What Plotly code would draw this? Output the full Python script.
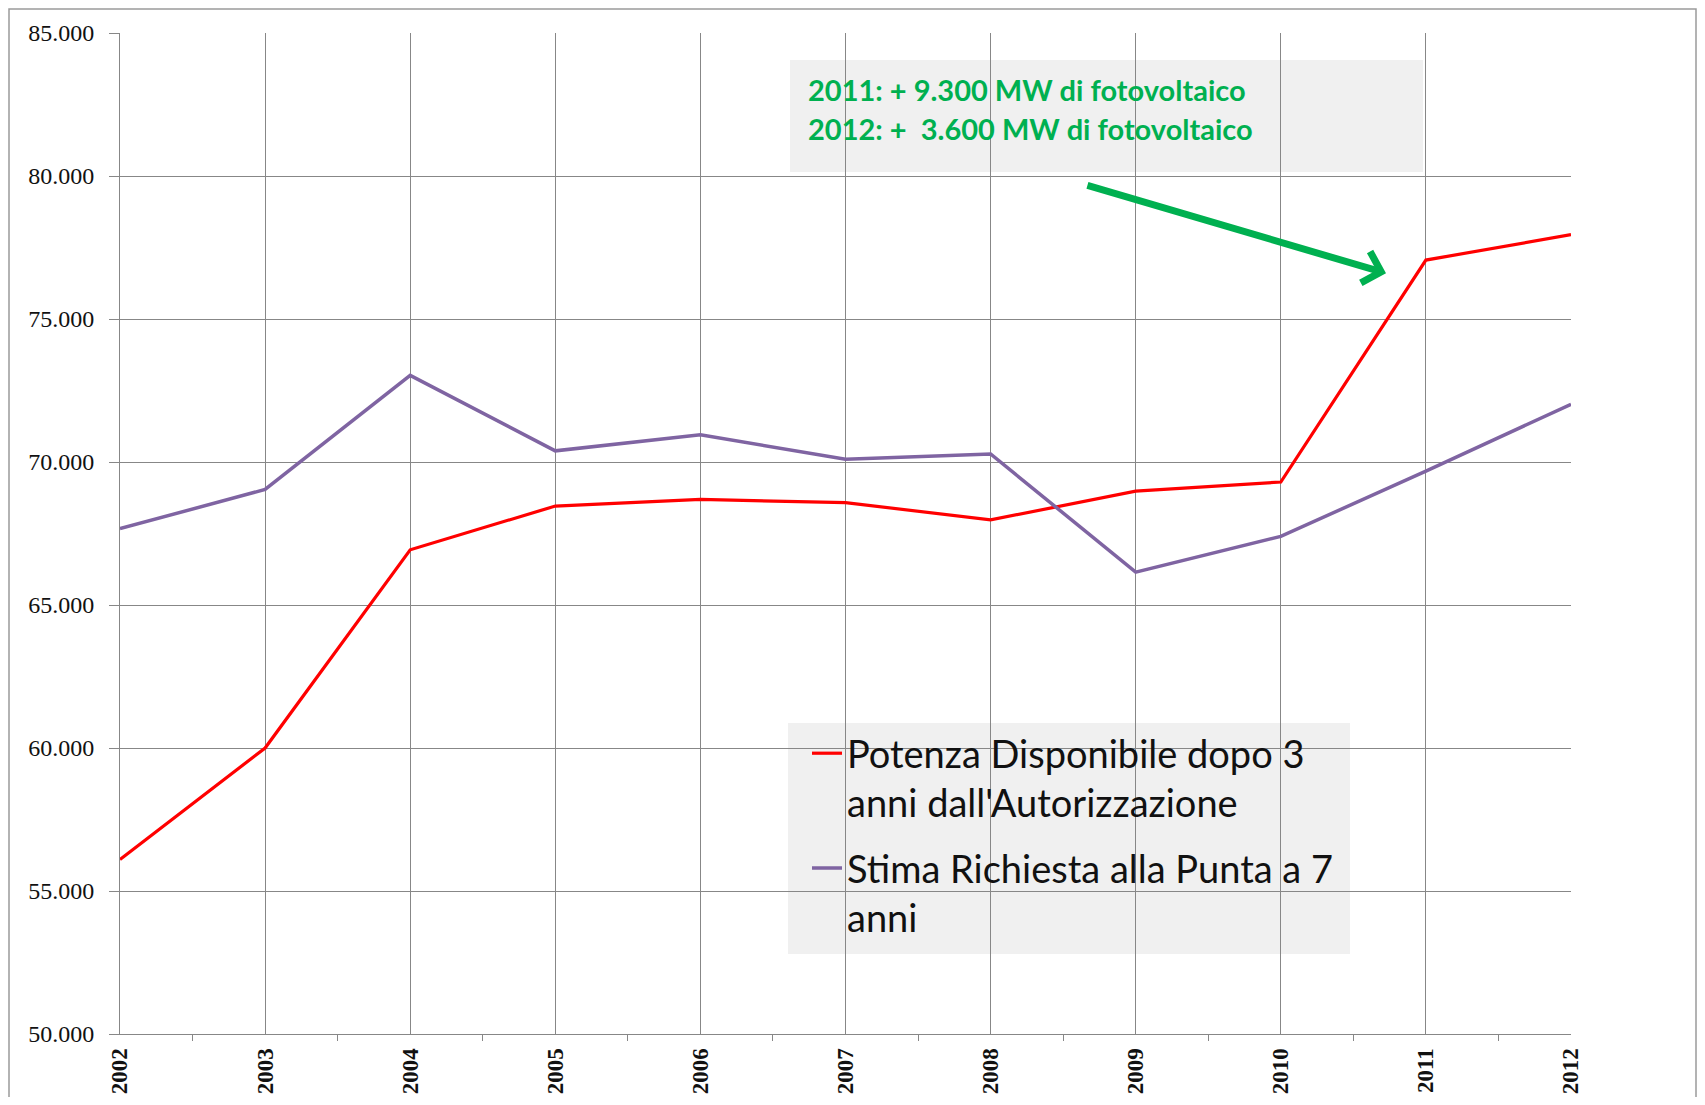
import plotly.graph_objects as go

years = [2002, 2003, 2004, 2005, 2006, 2007, 2008, 2009, 2010, 2011, 2012]
potenza = [56100, 60000, 66930, 68460, 68690, 68580, 67975, 68980, 69300, 77060, 77950]
stima = [67670, 69040, 73030, 70390, 70950, 70100, 70280, 66150, 67400, 69680, 72020]
y_ticks = [50000, 55000, 60000, 65000, 70000, 75000, 80000, 85000]
y_labels = ["50.000", "55.000", "60.000", "65.000", "70.000", "75.000", "80.000", "85.000"]
name_potenza = "Potenza Disponibile dopo 3<br>anni dall'Autorizzazione"
name_stima = "Stima Richiesta alla Punta a 7<br>anni"
note_lines = ["2011: + 9.300 MW di fotovoltaico", "2012: +  3.600 MW di fotovoltaico"]
arrow_from = (2008.657, 79685)
arrow_to = (2010.725, 76600)

OFF = 8  # default page body margin
W, H = 1689, 1089
L, T = 120 - OFF, 33 - OFF
R = W - (1571 - OFF)
B = H - (1034 - OFF)
pw, ph = W - L - R, H - T - B

def px_x(p):
    return (p - OFF - L) / pw

def px_y(p):
    return (H - B - (p - OFF)) / ph

fig = go.Figure()
fig.add_trace(go.Scatter(x=years, y=potenza, mode="lines", name=name_potenza, legendgroup="a",
                         line=dict(color="#ff0000", width=3.2)))
fig.add_trace(go.Scatter(x=years, y=stima, mode="lines", name=name_stima, legendgroup="b",
                         line=dict(color="#7f64a2", width=3.5)))

grid = "#878787"
fig.update_xaxes(range=[2002, 2012], tickmode="array", tickvals=years,
                 ticktext=[str(y) for y in years], tickangle=-90,
                 tickfont=dict(family="Liberation Serif", size=23, color="#111111", weight="bold"),
                 showgrid=True, gridcolor=grid, gridwidth=1,
                 showline=True, linecolor=grid, linewidth=1,
                 ticks="", ticklabelstandoff=4, automargin=False,
                 minor=dict(tick0=2002.5, dtick=1, ticks="outside", ticklen=6,
                            tickcolor=grid, showgrid=False),
                 zeroline=False, fixedrange=True)
fig.update_yaxes(range=[50000, 85000], tickmode="array", tickvals=y_ticks, ticktext=y_labels,
                 tickfont=dict(family="Liberation Serif", size=24, color="#111111"),
                 showgrid=True, gridcolor=grid, gridwidth=1,
                 showline=True, linecolor=grid, linewidth=1,
                 ticks="outside", ticklen=10, tickcolor=grid, ticklabelstandoff=10, automargin=False,
                 zeroline=False, fixedrange=True)

def border_path():
    x0, x1 = px_x(9), px_x(1696)
    y0, y1 = px_y(1140), px_y(9)
    return f"M {x0},{y0} L {x0},{y1} L {x1},{y1} L {x1},{y0}"

shapes = [
    dict(type="path", xref="paper", yref="paper", path=border_path(),
         line=dict(color="#9a9a9a", width=1.5), fillcolor="rgba(0,0,0,0)", layer="below"),
    dict(type="rect", xref="paper", yref="paper",
         x0=px_x(790), x1=px_x(1423), y0=px_y(172), y1=px_y(60),
         line=dict(width=0), fillcolor="#f0f0f0", layer="between"),
    dict(type="rect", xref="paper", yref="paper",
         x0=px_x(788), x1=px_x(1350), y0=px_y(954), y1=px_y(723),
         line=dict(width=0), fillcolor="#f0f0f0", layer="between"),
]

annotations = []
for i, line in enumerate(note_lines):
    annotations.append(dict(xref="paper", yref="paper", x=px_x(806), y=px_y(89 + 39 * i),
                            xanchor="left", yanchor="middle", showarrow=False, text="<b>" + line + "</b>",
                            font=dict(family="Lato", size=29, color="#00b050")))
annotations.append(dict(x=arrow_to[0], y=arrow_to[1], ax=arrow_from[0], ay=arrow_from[1],
                        xref="x", yref="y", axref="x", ayref="y", text="", showarrow=True,
                        arrowhead=4, arrowsize=0.9, arrowwidth=7, arrowcolor="#00b050"))

fig.update_layout(
    width=W, height=H,
    margin=dict(l=L, r=R, t=T, b=B, pad=0, autoexpand=False),
    paper_bgcolor="white", plot_bgcolor="white",
    showlegend=True,
    legend=dict(x=px_x(807), y=px_y(722), xanchor="left", yanchor="top",
                bgcolor="rgba(0,0,0,0)", borderwidth=0, valign="top",
                font=dict(family="Lato", size=38, color="#111111"),
                itemwidth=30, tracegroupgap=13),
    shapes=shapes, annotations=annotations,
)

fig.write_html("out.html")
